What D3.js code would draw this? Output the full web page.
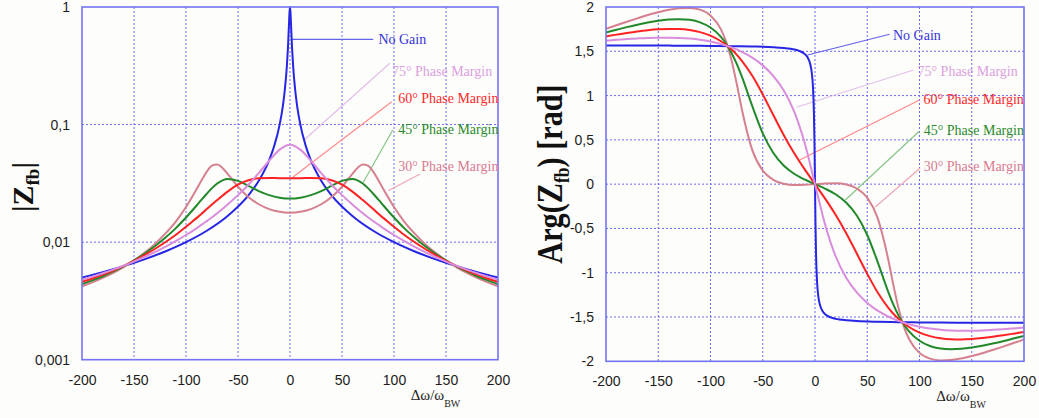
<!DOCTYPE html>
<html><head><meta charset="utf-8">
<script src="https://cdn.jsdelivr.net/npm/d3@7/dist/d3.min.js"></script>
<style>body{margin:0;background:#fdfdfb;}svg{display:block;}</style>
</head><body>
<svg id="chart" width="1039" height="418"></svg>
<script>
// ---------- data ----------
const xTicks = [-200,-150,-100,-50,0,50,100,150,200];
const xTickLabels = ["-200","-150","-100","-50","0","50","100","150","200"];
const magTicks = [0.001,0.01,0.1,1];
const magTickLabels = ["0,001","0,01","0,1","1"];
const phaseTicks = [-2,-1.5,-1,-0.5,0,0.5,1,1.5,2];
const phaseTickLabels = ["-2","-1,5","-1","-0,5","0","0,5","1","1,5","2"];

const seriesNames = ["No Gain","75° Phase Margin","60° Phase Margin","45° Phase Margin","30° Phase Margin"];

// sample positions for the phase-margin curves
const marginX = [-200,-190,-180,-170,-160,-150,-140,-130,-120,-110,-100,-90,-85,-80,-75,-70,-60,-50,-40,-30,-20,-10,0,10,20,30,40,50,60,70,75,80,85,90,100,110,120,130,140,150,160,170,180,190,200];

const mag75 = [0.00480,0.00509,0.00543,0.00583,0.00629,0.00683,0.00747,0.00822,0.00912,0.0102,0.0115,0.0131,0.0141,0.0151,0.0163,0.0176,0.0209,0.0251,0.0308,0.0387,0.0492,0.0612,0.0674,0.0612,0.0492,0.0387,0.0308,0.0251,0.0209,0.0176,0.0163,0.0151,0.0141,0.0131,0.0115,0.0102,0.00912,0.00822,0.00747,0.00683,0.00629,0.00583,0.00543,0.00509,0.00480];
const mag60 = [0.00460,0.00491,0.00529,0.00574,0.00629,0.00694,0.00775,0.00874,0.00997,0.0115,0.0135,0.0160,0.0174,0.0191,0.0209,0.0228,0.0269,0.0308,0.0336,0.0349,0.0352,0.0350,0.0349,0.0350,0.0352,0.0349,0.0336,0.0308,0.0269,0.0228,0.0209,0.0191,0.0174,0.0160,0.0135,0.0115,0.00997,0.00874,0.00775,0.00694,0.00629,0.00574,0.00529,0.00491,0.00460];
const mag45 = [0.00440,0.00473,0.00513,0.00563,0.00623,0.00700,0.00797,0.00922,0.0109,0.0131,0.0162,0.0204,0.0230,0.0258,0.0288,0.0315,0.0345,0.0332,0.0301,0.0272,0.0251,0.0239,0.0235,0.0239,0.0251,0.0272,0.0301,0.0332,0.0345,0.0315,0.0288,0.0258,0.0230,0.0204,0.0162,0.0131,0.0109,0.00922,0.00797,0.00700,0.00623,0.00563,0.00513,0.00473,0.00440];
const mag30 = [0.00422,0.00455,0.00497,0.00548,0.00614,0.00698,0.00810,0.00962,0.0118,0.0149,0.0199,0.0280,0.0336,0.0398,0.0447,0.0458,0.0381,0.0296,0.0242,0.0210,0.0191,0.0181,0.0178,0.0181,0.0191,0.0210,0.0242,0.0296,0.0381,0.0458,0.0447,0.0398,0.0336,0.0280,0.0199,0.0149,0.0118,0.00962,0.00810,0.00698,0.00614,0.00548,0.00497,0.00455,0.00422];

const phase75 = [1.619,1.629,1.638,1.645,1.651,1.654,1.654,1.651,1.643,1.630,1.610,1.582,1.564,1.544,1.521,1.494,1.428,1.341,1.223,1.060,0.822,0.470,0,-0.470,-0.822,-1.060,-1.223,-1.341,-1.428,-1.494,-1.521,-1.544,-1.564,-1.582,-1.610,-1.630,-1.643,-1.651,-1.654,-1.654,-1.651,-1.645,-1.638,-1.629,-1.619];
const phase60 = [1.668,1.688,1.707,1.724,1.738,1.748,1.753,1.751,1.740,1.716,1.676,1.613,1.572,1.522,1.463,1.393,1.223,1.013,0.783,0.556,0.351,0.169,0,-0.169,-0.351,-0.556,-0.783,-1.013,-1.223,-1.393,-1.463,-1.522,-1.572,-1.613,-1.676,-1.716,-1.740,-1.751,-1.753,-1.748,-1.738,-1.724,-1.707,-1.688,-1.668];
const phase45 = [1.713,1.743,1.773,1.800,1.824,1.844,1.858,1.863,1.855,1.827,1.768,1.662,1.584,1.484,1.360,1.213,0.880,0.574,0.354,0.210,0.117,0.053,0,-0.053,-0.117,-0.210,-0.354,-0.574,-0.880,-1.213,-1.360,-1.484,-1.584,-1.662,-1.768,-1.827,-1.855,-1.863,-1.858,-1.844,-1.824,-1.800,-1.773,-1.743,-1.713];
const phase30 = [1.754,1.794,1.834,1.872,1.909,1.941,1.968,1.986,1.990,1.970,1.905,1.748,1.608,1.405,1.139,0.846,0.384,0.152,0.049,0.005,-0.009,-0.007,0,0.007,0.009,-0.005,-0.049,-0.152,-0.384,-0.846,-1.139,-1.405,-1.608,-1.748,-1.905,-1.970,-1.990,-1.986,-1.968,-1.941,-1.909,-1.872,-1.834,-1.794,-1.754];

const noGainX = [-200,-180,-160,-140,-120,-100,-80,-60,-40,-30,-20,-15,-10,-7,-5,-3,-2,-1,-0.5,0,0.5,1,2,3,5,7,10,15,20,30,40,60,80,100,120,140,160,180,200];
const noGainMag = [0.00500,0.00556,0.00625,0.00714,0.00833,0.0100,0.0125,0.0167,0.0250,0.0333,0.0499,0.0665,0.0995,0.141,0.196,0.316,0.447,0.707,0.894,1,0.894,0.707,0.447,0.316,0.196,0.141,0.0995,0.0665,0.0499,0.0333,0.0250,0.0167,0.0125,0.0100,0.00833,0.00714,0.00625,0.00556,0.00500];
const noGainPhase = [1.566,1.565,1.564,1.564,1.562,1.561,1.558,1.554,1.546,1.537,1.521,1.504,1.471,1.429,1.373,1.249,1.107,0.785,0.464,0,-0.464,-0.785,-1.107,-1.249,-1.373,-1.429,-1.471,-1.504,-1.521,-1.537,-1.546,-1.554,-1.558,-1.561,-1.562,-1.564,-1.564,-1.565,-1.566];

// ---------- styles ----------
const curveColors = ["#2626e4","#d98ddc","#ff2222","#22892a","#d5808f"];
const labelColors = ["#3434d8","#dc9fe0","#ff2a2a","#2a8a2a","#d87a90"];
const leaderColors = ["#6464ea","#e3bfe9","#ff8a8a","#86c486","#eea5b6"];
const drawOrder = [0,4,3,2,1];

const svg = d3.select("#chart");
svg.append("rect").attr("width",1039).attr("height",418).attr("fill","#fdfdfb");

function panel(cfg){
  const g = svg.append("g");
  const x = d3.scaleLinear().domain([-200,200]).range(cfg.xr);
  const y = cfg.y;
  const [x0,x1] = cfg.xr, [yb,yt] = y.range();
  const clipId = "clip"+cfg.id;
  svg.append("clipPath").attr("id",clipId).append("rect")
     .attr("x",x0).attr("y",yt-1).attr("width",x1-x0).attr("height",yb-yt+2);
  // grid
  g.selectAll(".vg").data(xTicks.slice(1,-1)).join("line")
    .attr("x1",d=>x(d)).attr("x2",d=>x(d)).attr("y1",yt).attr("y2",yb)
    .attr("stroke","#6a6af4").attr("stroke-width",1).attr("stroke-dasharray","2,2");
  g.selectAll(".hg").data(cfg.yTicks.slice(1,-1)).join("line")
    .attr("x1",x0).attr("x2",x1).attr("y1",d=>y(d)).attr("y2",d=>y(d))
    .attr("stroke","#6a6af4").attr("stroke-width",1).attr("stroke-dasharray","2,2");
  // axes labels
  const ax = g.append("g").attr("transform",`translate(0,${yb})`)
    .call(d3.axisBottom(x).tickValues(xTicks).tickFormat((d,i)=>xTickLabels[i]).tickSize(0).tickPadding(15));
  const ay = g.append("g").attr("transform",`translate(${x0},0)`)
    .call(d3.axisLeft(y).tickValues(cfg.yTicks).tickFormat((d,i)=>cfg.yLabels[i]).tickSize(0).tickPadding(12));
  [ax,ay].forEach(a=>{a.select(".domain").remove();
    a.selectAll("text").attr("font-family","'Liberation Sans',Arial,sans-serif").attr("font-size",14).attr("fill","#1c1c1c");});
  // leaders
  cfg.notes.forEach((n,i)=>{
    g.append("line").attr("x1",x(n.from[0])).attr("y1",y(n.from[1]))
      .attr("x2",x(n.to[0])).attr("y2",y(n.to[1]))
      .attr("stroke",leaderColors[i]).attr("stroke-width",1.2);
  });
  // curves
  const cg = g.append("g").attr("clip-path",`url(#${clipId})`);
  const line = d3.line().x(d=>x(d[0])).y(d=>y(d[1])).curve(d3.curveMonotoneX);
  drawOrder.forEach(i=>{
    const s = cfg.series[i];
    cg.append("path").datum(s.xs.map((v,k)=>[v,s.ys[k]]))
      .attr("d",line).attr("fill","none").attr("stroke",curveColors[i]).attr("stroke-width",2)
      .attr("stroke-linejoin","round");
  });
  // frame
  g.append("rect").attr("x",x0).attr("y",yt).attr("width",x1-x0).attr("height",yb-yt)
    .attr("fill","none").attr("stroke","#7474f2").attr("stroke-width",1.6);
  // note labels
  cfg.notes.forEach((n,i)=>{
    g.append("text").attr("x",x(n.at[0])).attr("y",y(n.at[1])).attr("dy","0.35em")
      .attr("font-family","'Liberation Serif','Times New Roman',serif").attr("font-size",14)
      .attr("fill",labelColors[i]).text(seriesNames[i]);
  });
  // x title
  const xt = g.append("text").attr("x",x(116)).attr("y",yb+40)
    .attr("font-family","'Liberation Serif','Times New Roman',serif").attr("font-size",15).attr("fill","#222");
  xt.append("tspan").text("Δω/ω");
  xt.append("tspan").attr("font-size",10).attr("dy",7).text("BW");
  return {x,y,g};
}

const left = panel({
  id:"L", xr:[82,498],
  y:d3.scaleLog().domain([0.001,1]).range([359.7,7]),
  yTicks:magTicks, yLabels:magTickLabels,
  series:[
    {xs:noGainX, ys:noGainMag},{xs:marginX, ys:mag75},{xs:marginX, ys:mag60},
    {xs:marginX, ys:mag45},{xs:marginX, ys:mag30}],
  notes:[
    {from:[1,0.531], to:[80,0.531], at:[85,0.531]},
    {from:[13.5,0.074], to:[96,0.332], at:[98,0.287]},
    {from:[2.6,0.0356], to:[97.8,0.1565], at:[104,0.1674]},
    {from:[70.5,0.0323], to:[98.8,0.090], at:[104,0.0912]},
    {from:[94.5,0.0274], to:[125,0.038], at:[104,0.0447]}]
});
const right = panel({
  id:"R", xr:[606,1024],
  y:d3.scaleLinear().domain([-2,2]).range([361.3,7]),
  yTicks:phaseTicks, yLabels:phaseTickLabels,
  series:[
    {xs:noGainX, ys:noGainPhase},{xs:marginX, ys:phase75},{xs:marginX, ys:phase60},
    {xs:marginX, ys:phase45},{xs:marginX, ys:phase30}],
  notes:[
    {from:[-7.1,1.458], to:[71.4,1.692], at:[74.6,1.684]},
    {from:[-17.9,0.868], to:[94.3,1.289], at:[98.1,1.281]},
    {from:[-14.7,0.273], to:[100,0.950], at:[103.9,0.961]},
    {from:[29,-0.179], to:[100,0.600], at:[104,0.611]},
    {from:[57.7,-0.258], to:[100.7,0.182], at:[104,0.208]}]
});

// y titles
const lt = svg.append("text").attr("transform","translate(33,187) rotate(-90)")
  .attr("text-anchor","middle").attr("font-family","'Liberation Serif','Times New Roman',serif")
  .attr("font-weight","bold").attr("font-size",30).attr("fill","#111");
lt.append("tspan").text("|Z");
lt.append("tspan").attr("font-size",19).attr("dy",6).text("fb");
lt.append("tspan").attr("dy",-6).text("|");

const rt = svg.append("text").attr("transform","translate(562,174) rotate(-90) scale(0.84,1)")
  .attr("text-anchor","middle").attr("font-family","'Liberation Serif','Times New Roman',serif")
  .attr("font-weight","bold").attr("font-size",36).attr("fill","#111");
rt.append("tspan").text("Arg(Z");
rt.append("tspan").attr("font-size",21).attr("dy",7).text("fb");
rt.append("tspan").attr("dy",-7).text(") [rad]");
</script>
</body></html>
